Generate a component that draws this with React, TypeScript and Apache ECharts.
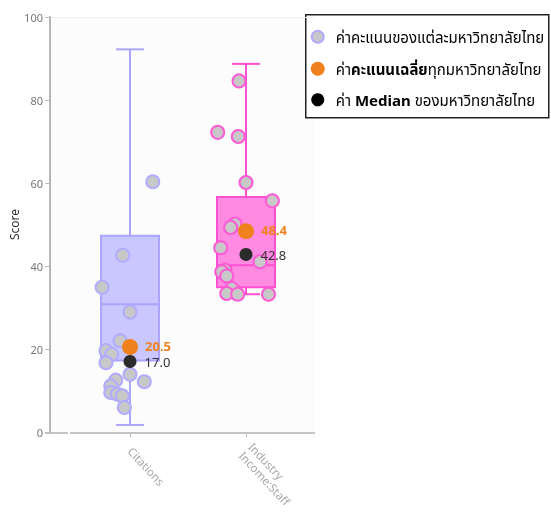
import React, { useEffect, useRef } from "react";
import * as echarts from "echarts";

// ---- data ----
const categories = ["Citations", "Industry\nIncome:Staff"];
// [min, Q1, median, Q3, max]
const boxStats = [
  [1.7, 17.2, 30.8, 47.3, 92.2],
  [33.2, 34.9, 40.2, 56.6, 88.7],
];
const citationsScores = [60.3, 42.6, 34.9, 28.9, 22.0, 19.6, 18.7, 16.7, 13.9, 12.1, 12.5, 11.1, 9.5, 9.1, 8.7, 5.9];
const citationsJitter = [0.196, -0.063, -0.241, 0, -0.086, -0.207, -0.158, -0.207, 0, 0.123, -0.123, -0.166, -0.166, -0.109, -0.066, -0.049];
const industryScores = [84.6, 72.2, 71.2, 60.1, 55.7, 50.1, 49.3, 44.4, 41.0, 39.0, 38.6, 37.6, 34.6, 33.4, 33.2, 33.2];
const industryJitter = [-0.06, -0.244, -0.066, 0, 0.227, -0.095, -0.132, -0.218, 0.121, -0.181, -0.209, -0.166, -0.123, -0.166, -0.072, 0.194];
const meanValues = [20.5, 48.4];
const medianValues = [17.0, 42.8];
const yTicks = { min: 0, max: 100, interval: 20 };
const legendLabels = [
  "{a|ค่าคะแนนของแต่ละมหาวิทยาลัยไทย}",
  "{a|ค่า}{o|คะแนนเฉลี่ย}{a|ทุกมหาวิทยาลัยไทย}",
  "{a|ค่า }{b|Median}{a| ของมหาวิทยาลัยไทย}",
];

// ---- styles ----
const boxFill = ["#c9c7ff", "#ff8ae2"];
const boxStroke = ["#aba5ff", "#ff4fd3"];
const pointFill = "#c8c8c8";
const meanColor = "#f0821e";
const medianColor = "#2b2b2b";
const FONT = "'Noto Sans', 'Noto Sans Thai', 'DejaVu Sans', sans-serif";

export default function App() {
  const ref = useRef<HTMLDivElement>(null);
  useEffect(() => {
    const chart = echarts.init(ref.current!, undefined, { renderer: "svg" });

    const pts = (scores: number[], jit: number[], idx: number) =>
      scores.map((v, i) => [idx + jit[i], v]);

    const option: any = {
      animation: false,
      textStyle: { fontFamily: FONT },
      grid: {
        left: 50,
        right: 236,
        top: 17,
        bottom: 84,
        show: true,
        backgroundColor: "#fcfcfc",
        borderWidth: 0,
      },
      xAxis: {
        type: "value",
        min: -0.69,
        max: 1.595,
        axisLine: { show: false, onZero: false },
        splitLine: { show: false },
        axisTick: {
          show: true,
          customValues: [0, 1],
          length: 5,
          lineStyle: { color: "#bbb", width: 1 },
        },
        axisLabel: {
          customValues: [0, 1],
          formatter: (v: number) => categories[Math.round(v)] ?? "",
          rotate: -47,
          color: "#a8a8a8",
          fontSize: 11.5,
          margin: 17,
          lineHeight: 13,
          fontFamily: FONT,
        },
      },
      yAxis: {
        type: "value",
        min: yTicks.min,
        max: yTicks.max,
        interval: yTicks.interval,
        name: "Score",
        nameLocation: "middle",
        nameGap: 27,
        nameTextStyle: { color: "#333", fontSize: 12, fontFamily: FONT },
        axisLine: { show: true, onZero: false, lineStyle: { color: "#b5b5b5", width: 2 } },
        axisTick: { show: true, length: 5, lineStyle: { color: "#bbb" } },
        axisLabel: { color: "#777", fontSize: 11, margin: 7, fontFamily: FONT },
        splitLine: {
          show: true,
          lineStyle: { color: ["none", "none", "none", "none", "none", "#efefef"], width: 1 },
        },
      },
      graphic: [
        { type: "line", shape: { x1: 45, y1: 433, x2: 68, y2: 433 }, style: { stroke: "#c4c4c4", lineWidth: 2 } },
        { type: "line", shape: { x1: 70, y1: 433, x2: 315, y2: 433 }, style: { stroke: "#c4c4c4", lineWidth: 2 } },
        {
          type: "group",
          left: 305,
          top: 14,
          children: [
            { type: "rect", shape: { x: 0, y: 0, width: 243, height: 103 }, style: { fill: "#fff", stroke: "#222", lineWidth: 1.5 } },
            { type: "circle", shape: { cx: 12, cy: 22, r: 6 }, style: { fill: pointFill, stroke: "#b2abff", lineWidth: 2 } },
            { type: "circle", shape: { cx: 12, cy: 54, r: 7 }, style: { fill: meanColor } },
            { type: "circle", shape: { cx: 12, cy: 85, r: 6.5 }, style: { fill: "#000" } },
            ...legendLabels.map((t, i) => ({
              type: "text",
              x: 30,
              y: [22, 54, 85][i],
              style: {
                text: t,
                verticalAlign: "middle",
                rich: {
                  a: { fontSize: 15, color: "#222", fontFamily: FONT },
                  o: { fontSize: 15, color: meanColor, fontWeight: "bold", fontFamily: FONT },
                  b: { fontSize: 15, color: "#111", fontWeight: "bold", fontFamily: FONT },
                },
              },
            })),
          ],
        },
      ],
      series: [
        {
          type: "custom",
          data: boxStats.map((s, i) => [i, ...s]),
          encode: { x: 0, y: [1, 2, 3, 4, 5] },
          z: 1,
          renderItem: (params: any, api: any) => {
            const x = api.value(0);
            const [mn, q1, md, q3, mx] = [1, 2, 3, 4, 5].map((k) => api.value(k));
            const half = api.size([0.25, 0])[0];
            const capHalf = api.size([0.12, 0])[0];
            const pMin = api.coord([x, mn]);
            const pQ1 = api.coord([x, q1]);
            const pMd = api.coord([x, md]);
            const pQ3 = api.coord([x, q3]);
            const pMax = api.coord([x, mx]);
            const i = params.dataIndex;
            const ls = { stroke: boxStroke[i], lineWidth: 2 };
            return {
              type: "group",
              children: [
                { type: "line", shape: { x1: pQ3[0], y1: pQ3[1], x2: pMax[0], y2: pMax[1] }, style: ls },
                { type: "line", shape: { x1: pMax[0] - capHalf, y1: pMax[1], x2: pMax[0] + capHalf, y2: pMax[1] }, style: ls },
                { type: "line", shape: { x1: pQ1[0], y1: pQ1[1], x2: pMin[0], y2: pMin[1] }, style: ls },
                { type: "line", shape: { x1: pMin[0] - capHalf, y1: pMin[1], x2: pMin[0] + capHalf, y2: pMin[1] }, style: ls },
                {
                  type: "rect",
                  shape: { x: pQ3[0] - half, y: pQ3[1], width: half * 2, height: pQ1[1] - pQ3[1] },
                  style: { fill: boxFill[i], stroke: boxStroke[i], lineWidth: 2 },
                },
                { type: "line", shape: { x1: pMd[0] - half, y1: pMd[1], x2: pMd[0] + half, y2: pMd[1] }, style: ls },
              ],
            };
          },
        },
        {
          type: "scatter",
          z: 2,
          symbolSize: 13,
          data: pts(citationsScores, citationsJitter, 0),
          itemStyle: { color: pointFill, borderColor: "#b2abff", borderWidth: 2, opacity: 1 },
        },
        {
          type: "scatter",
          z: 2,
          symbolSize: 13,
          data: pts(industryScores, industryJitter, 1),
          itemStyle: { color: pointFill, borderColor: "#ff5ad6", borderWidth: 2, opacity: 1 },
        },
        {
          type: "scatter",
          z: 3,
          symbolSize: 13,
          data: medianValues.map((v, i) => [i, v]),
          itemStyle: { color: medianColor, opacity: 1 },
          label: {
            show: true,
            position: "right",
            distance: 8,
            offset: [0, 1],
            formatter: (p: any) => p.value[1].toFixed(1),
            color: "#333",
            fontSize: 13,
            lineHeight: 12,
            fontFamily: FONT,
          },
        },
        {
          type: "scatter",
          z: 4,
          symbolSize: 16,
          data: meanValues.map((v, i) => [i, v]),
          itemStyle: { color: meanColor, opacity: 1 },
          label: {
            show: true,
            position: "right",
            distance: 7,
            offset: [0, -1],
            formatter: (p: any) => p.value[1].toFixed(1),
            color: meanColor,
            fontSize: 13,
            lineHeight: 12,
            fontWeight: "bold",
            fontFamily: FONT,
          },
        },
      ],
    };
    chart.setOption(option);
    return () => chart.dispose();
  }, []);
  return <div ref={ref} style={{ position: "fixed", left: 0, top: 0, width: 551, height: 516 }} />;
}
